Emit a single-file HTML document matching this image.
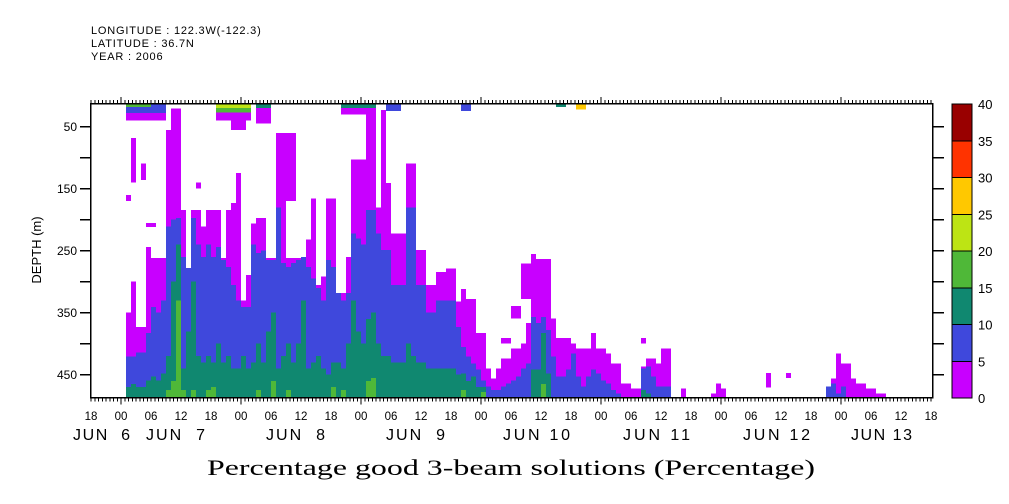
<!DOCTYPE html>
<html><head><meta charset="utf-8"><style>
html,body{margin:0;padding:0;background:#fff;width:1009px;height:504px;overflow:hidden}
svg{display:block}
text{font-family:"Liberation Sans",sans-serif;fill:#000}
.hdr{font-size:11px;letter-spacing:0.8px}
</style></head><body>
<svg id="chart" width="1009" height="504" viewBox="0 0 1009 504" xmlns="http://www.w3.org/2000/svg" shape-rendering="crispEdges">
<g>
<text class="hdr" x="91" y="34">LONGITUDE : 122.3W(-122.3)</text>
<text class="hdr" x="91" y="47">LATITUDE : 36.7N</text>
<text class="hdr" x="91" y="60">YEAR : 2006</text>
</g>
<g id="cells"></g>
<g id="axes"></g>
<rect x="90.5" y="103.5" width="842" height="294" fill="none" stroke="#000" stroke-width="1.5"/>
<text x="41" y="250" font-size="13" text-anchor="middle" transform="rotate(-90 41 250)">DEPTH (m)</text>
<text x="511" y="475" font-size="22" textLength="608" lengthAdjust="spacingAndGlyphs" text-anchor="middle" style="font-family:'Liberation Serif',serif">Percentage good 3-beam solutions (Percentage)</text>
<g id="cbar"></g>
</svg>
<script>
// ---- data ----
const levels = [0,5,10,15,20,25,30,35,40];
const levelColors = ["#c800ff","#3f48dc","#108870","#4fb838","#bde414","#ffc800","#ff3300","#990000"];
const colHours = [];
for (let h = 1; h <= 152; h++) colHours.push(h);
// depth (m) where each class begins (from surface down) for each hourly column; null = none
const purpleTop = [350,300,373,373,244,262,262,262,55,21,21,184,278,184,184,211,184,184,184,262,184,173,125,330,289,206,197,197,262,262,76,76,262,262,262,262,232,166,305,292,166,166,318,318,260,103,103,103,23,23,180,23,141,222,222,222,109,109,249,249,305,305,284,284,279,279,332,312,328,328,383,383,440,456,440,424,424,408,408,400,367,255,263,263,263,359,391,391,391,400,408,408,408,383,408,408,416,432,432,464,464,472,472,437,424,424,432,408,408,null,null,472,null,null,null,null,null,480,464,472,null,null,null,null,null,null,null,null,null,null,null,null,null,null,null,null,null,null,null,null,null,456,416,432,432,456,464,464,472,472,480,480];
const blueTop = [421,421,414,414,383,341,350,330,211,200,197,260,278,197,240,260,240,260,244,265,276,305,330,341,341,240,254,250,265,265,180,270,276,270,265,260,276,295,310,330,265,276,318,330,318,222,230,240,184,184,222,249,249,305,305,305,180,180,305,305,350,350,330,330,330,330,373,405,421,432,442,459,469,475,475,469,464,459,453,440,432,357,367,357,378,421,453,453,442,416,453,469,453,442,448,459,464,475,480,null,null,null,null,440,437,453,469,469,469,null,null,null,null,null,null,null,null,null,null,null,null,null,null,null,null,null,null,null,null,null,null,null,null,null,null,null,null,null,null,null,469,464,480,469,null,null,null,null,null,null,null];
const tealTop = [470,465,470,470,459,453,459,448,420,300,240,440,380,300,420,430,420,430,400,430,420,440,440,420,440,430,400,430,380,350,440,420,400,430,400,330,440,430,420,440,450,430,430,440,400,330,380,400,360,350,400,420,420,430,430,430,400,420,430,430,440,440,440,440,440,440,450,448,460,453,470,470,null,null,null,null,null,null,null,null,null,442,442,383,448,null,null,null,null,null,null,null,null,null,null,null,null,null,null,null,null,null,null,475,480,null,null,null,null,null,null,null,null,null,null,null,null,null,null,null,null,null,null,null,null,null,null,null,null,null,null,null,null,null,null,null,null,null,null,null,null,null,null,null,null,null,null,null,null,null,null,null];
const greenTop = [null,null,null,null,null,null,null,null,475,460,330,475,null,475,null,null,475,470,null,null,null,null,null,null,null,null,475,null,null,460,null,null,475,null,null,null,null,null,null,null,null,470,null,475,null,null,null,null,460,455,null,null,null,null,null,null,null,null,null,null,null,null,null,null,null,null,null,475,null,null,null,478,null,null,null,null,null,null,null,null,null,null,null,465,null];
// isolated patches: start hour, end hour, top depth, bottom depth, class index
const patchH0 = [1,1,1,19,19,19,27,27,44,44,53,68,87,91,2,4,1,22,31,15,129,133,104,80,78,76,10,5];
const patchH1 = [8,8,5,25,25,25,29,29,50,50,55,69,88,92,2,4,1,24,34,15,129,133,104,81,79,77,11,6];
const patchD0 = [13,28,13,13,20,27,13,20,13,20,13,13,13,13,68,109,160,30,60,140,447,447,391,271,339,391,21,205];
const patchD1 = [28,40,18,20,27,40,20,45,20,30,25,25,18,22,140,136,170,55,170,150,471,455,400,328,359,400,150,212];
const patchLvl = [1,0,3,4,3,0,2,0,2,0,1,1,2,5,0,0,0,0,0,0,0,0,0,0,0,0,0,0];
const depthTicks = [50,100,150,200,250,300,350,400,450];
const depthLabels = ["50","","150","","250","","350","","450"];
const hourLabels = ["18","00","06","12"];
const dayNames = ["JUN  6","JUN  7","JUN  8","JUN  9","JUN 10","JUN 11","JUN 12","JUN 13"];
const dayLabelX = [73,146,266,386,503,623,743,851];
const dayLabelW = [57,59,59,59,67,67,67,61];
const cbarLabels = ["0","5","10","15","20","25","30","35","40"];

// ---- scales ----
const PX = 121, PT = 104, PB = 397.5, PL = 91, PR = 932;
const xOfHour = h => PX + h * 5;          // hours since Jun 6 00:00
const yOfDepth = d => Math.max(PT, Math.min(PB, 126.7 + (d - 50) * 0.62));
const NS = "http://www.w3.org/2000/svg";
function mk(tag, attrs, parent){const e=document.createElementNS(NS,tag);for(const k in attrs)e.setAttribute(k,attrs[k]);parent.appendChild(e);return e;}

// ---- heatmap ----
const cells = document.getElementById('cells');
const tops = [purpleTop, blueTop, tealTop, greenTop];
colHours.forEach((h, i) => {
  tops.forEach((arr, lvl) => {
    const d = arr[i];
    if (d === null || d === undefined) return;
    const y = yOfDepth(d);
    if (y >= PB) return;
    const r = mk('rect', {x: xOfHour(h), y: y, width: 5, height: PB - y, fill: levelColors[lvl]}, cells);
    
    
  });
});
patchH0.forEach((h0, i) => {
  const y0 = yOfDepth(patchD0[i]), y1 = yOfDepth(patchD1[i]);
  const r = mk('rect', {x: xOfHour(h0), y: y0, width: (patchH1[i] - h0 + 1) * 5, height: Math.max(1, y1 - y0), fill: levelColors[patchLvl[i]]}, cells);
  
  
});

// ---- axes ----
const ax = document.getElementById('axes');
depthTicks.forEach((d, i) => {
  const y = yOfDepth(d);
  const t1 = mk('line', {x1: 80, x2: 91, y1: y, y2: y, stroke: '#000', 'stroke-width': 1.2}, ax);
  
  
  const t2 = mk('line', {x1: 932, x2: 944, y1: y, y2: y, stroke: '#000', 'stroke-width': 1.2}, ax);
  
  
  if (depthLabels[i]) {
    const t = mk('text', {x: 77, y: y + 4.5, 'font-size': 12, 'text-anchor': 'end'}, ax);
    t.textContent = depthLabels[i];
    
    
  }
});
for (let k = 0; ; k++) {
  const hh = -6 + k * 0.75;
  const x = xOfHour(hh);
  if (x > PR + 0.5) break;
  const major = Math.abs(hh % 24) < 1e-6;
  const len = major ? 7 : 4;
  const a = mk('line', {x1: x, x2: x, y1: PT, y2: PT - len, stroke: '#000', 'stroke-width': 1}, ax);
  
  
  const b = mk('line', {x1: x, x2: x, y1: PB, y2: PB + len, stroke: '#000', 'stroke-width': 1}, ax);
  
  
}
for (let k = 0; k <= 28; k++) {
  const hh = -6 + k * 6;
  const t = mk('text', {x: xOfHour(hh), y: 420, 'font-size': 11.5, 'text-anchor': 'middle'}, ax);
  t.textContent = hourLabels[k % 4];
  
  
}
dayNames.forEach((n, i) => {
  const t = mk('text', {x: dayLabelX[i], y: 440, 'font-size': 16, textLength: dayLabelW[i], lengthAdjust: 'spacing'}, ax);
  t.textContent = n;
  t.style.whiteSpace = 'pre';
  t.setAttribute('xml:space', 'preserve');
  
  
});

// ---- colorbar ----
const cb = document.getElementById('cbar');
const cbTop = 104, cbBot = 398, cbX = 952, cbW = 20;
const segH = (cbBot - cbTop) / (levels.length - 1);
levelColors.forEach((c, i) => {
  const y = cbBot - (i + 1) * segH;
  const r = mk('rect', {x: cbX, y: y, width: cbW, height: segH, fill: c, stroke: '#000', 'stroke-width': 1}, cb);
  
  
});
levels.forEach((v, i) => {
  const t = mk('text', {x: 978, y: cbBot - i * segH + 5, 'font-size': 13}, cb);
  t.textContent = cbarLabels[i];
  
  
});
</script>
</body></html>
